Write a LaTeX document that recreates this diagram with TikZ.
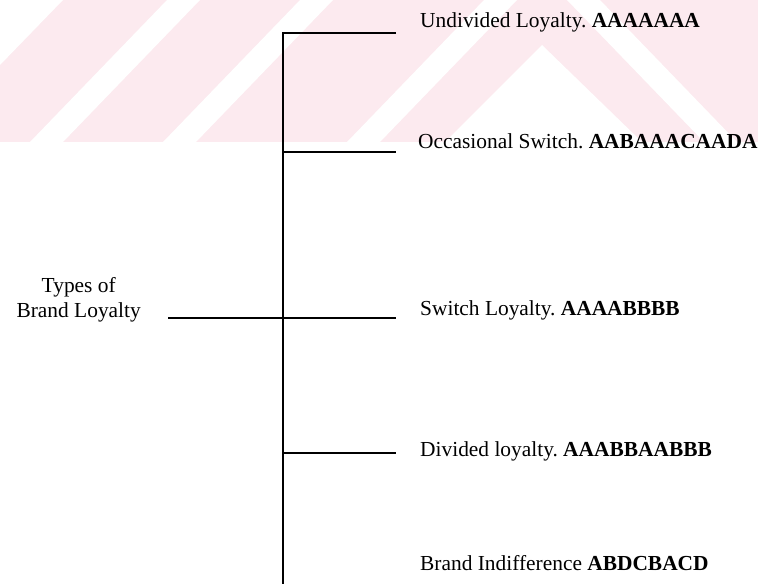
\documentclass[tikz,border=0pt]{standalone}
\usepackage{fontspec}
\setmainfont{Liberation Serif}
\usepackage{tikz}
\usetikzlibrary{positioning}

\definecolor{wmpink}{RGB}{252,234,239}
\frenchspacing

\begin{document}
\begin{tikzpicture}[
  x=1pt, y=-1pt,
  branch/.style={line width=2pt},
  leaf/.style={anchor=base west, inner sep=0pt, font=\fontsize{21.4}{25}\selectfont},
  rootlbl/.style={align=center, inner sep=0pt, font=\fontsize{21.4}{25}\selectfont}
]
  \useasboundingbox (0,0) rectangle (758,584);

  % faint stripes behind the top part
  \fill[wmpink] (0,0) rectangle (758,142);
  \fill[white] (0,0) -- (63,0) -- (0,65) -- cycle;
  \fill[white] (167,0) -- (200,0) -- (63,142) -- (30,142) -- cycle;
  \fill[white] (300,0) -- (333,0) -- (196,142) -- (163,142) -- cycle;
  \fill[white] (484,0) -- (517,0) -- (380,142) -- (347,142) -- cycle;
  \fill[white] (542,45) -- (642,142) -- (445,142) -- cycle;
  \fill[white] (567,0) -- (600,0) -- (737,142) -- (704,142) -- cycle;

  % root label
  \node[rootlbl, anchor=base east] (types) at (141,317) {Types of\\Brand Loyalty};

  % the five kinds
  \node[leaf] (undivided) at (420,27)  {Undivided Loyalty. \textbf{AAAAAAA}};
  \node[leaf] (occasional) at (418,148) {Occasional Switch. \textbf{AABAAACAADA}};
  \node[leaf] (switch) at (420,315)    {Switch Loyalty. \textbf{AAAABBBB}};
  \node[leaf] (divided) at (420,456)   {Divided loyalty. \textbf{AAABBAABBB}};
  \node[leaf] (indiff) at (420,570)    {Brand Indifference \textbf{ABDCBACD}};

  % trunk and branch points
  \coordinate (top) at (283,33);
  \coordinate (bot) at (283,584);
  \coordinate (j2) at (283,152);
  \coordinate (j4) at (283,453);
  \coordinate (root) at (168,318);
  \coordinate (e1) at (396,33);
  \coordinate (e2) at (396,152);
  \coordinate (e3) at (396,318);
  \coordinate (e4) at (396,453);

  \draw[branch] (e1) -- (top) -- (bot);
  \draw[branch] (j2) -- (e2);
  \draw[branch] (root) -- (e3);
  \draw[branch] (j4) -- (e4);
\end{tikzpicture}
\end{document}
